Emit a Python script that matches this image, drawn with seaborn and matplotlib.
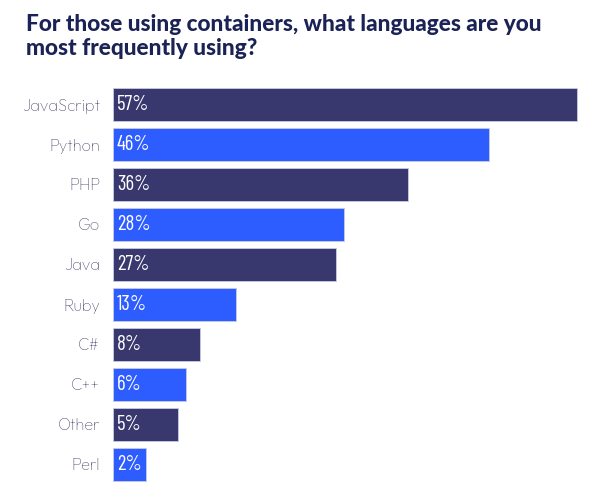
import matplotlib
matplotlib.use("Agg")
import matplotlib.pyplot as plt
import seaborn as sns
import pandas as pd

# Data
languages = ["JavaScript", "Python", "PHP", "Go", "Java", "Ruby", "C#", "C++", "Other", "Perl"]
value_labels = ["57%", "46%", "36%", "28%", "27%", "13%", "8%", "6%", "5%", "2%"]
bar_lengths = [57.0, 46.2, 36.3, 28.4, 27.4, 15.1, 10.7, 9.0, 8.0, 4.1]
bar_colors = ["#38376e", "#2d5cff", "#38376e", "#2d5cff", "#38376e",
              "#2d5cff", "#38376e", "#2d5cff", "#38376e", "#2d5cff"]
title = "For those using containers, what languages are you\nmost frequently using?"

sns.set_theme(style="white")
plt.rcParams['font.family'] = ['Outfit', 'Lato', 'DejaVu Sans']

df = pd.DataFrame({"language": languages, "value": bar_lengths})

fig = plt.figure(figsize=(6.05, 5.03), dpi=100)
ax = fig.add_axes([112.7 / 605, 1 - 484.5 / 503, 1 - 112.7 / 605, 400 / 503])

sns.barplot(data=df, x="value", y="language", hue="language",
            palette=bar_colors, legend=False, width=0.82, ax=ax,
            edgecolor="#c9cbe6", linewidth=0.6, saturation=1)

ax.set_xlim(0, 492.3 / 8.146)
ax.set_ylim(9.5, -0.5)
ax.set_xlabel("")
ax.set_ylabel("")
ax.set_xticks([])
for s in ax.spines.values():
    s.set_visible(False)
ax.tick_params(axis="y", length=0, pad=9)
for lbl in ax.get_yticklabels():
    lbl.set_fontsize(11.8)
    lbl.set_color("#4f4f75")

for i, t in enumerate(value_labels):
    ax.annotate(t, xy=(0, i), xytext=(3, 0), textcoords="offset points",
                ha="left", va="center", color="white", fontsize=15,
                family=["Barlow Condensed", "DejaVu Sans"], fontweight=400)

fig.text(26 / 605, 1 - 14 / 503, title, ha="left", va="top",
         fontsize=16.3, fontweight=900, color="#1b2255", linespacing=1.15,
         family=["Lato", "DejaVu Sans"])

fig.savefig("out.png", dpi=100)
